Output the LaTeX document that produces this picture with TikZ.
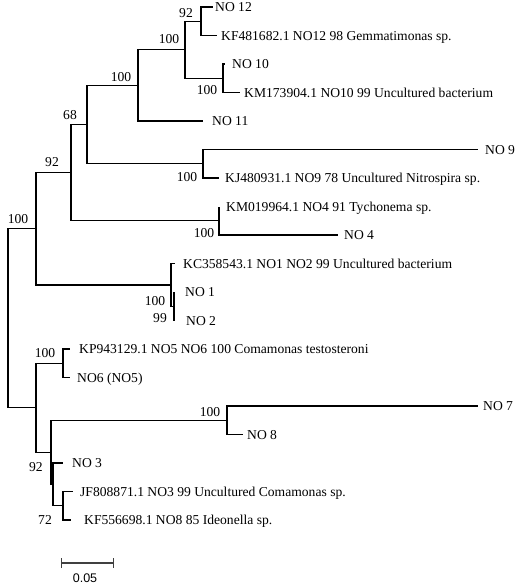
\documentclass[tikz,border=0pt]{standalone}
\usepackage{fontspec}
\setmainfont{Liberation Serif}
\newfontfamily\barfont{Liberation Sans}
\usetikzlibrary{positioning,arrows.meta}

\newcommand{\taxfont}{\fontsize{13.6}{16}\selectfont}

\tikzset{
  branch/.style={line width=1.25pt},
  leaf/.style={inner xsep=0pt, inner ysep=0pt, text height=9pt, text depth=0pt, font=\taxfont},
  boot/.style={inner sep=0pt, text height=9pt, text depth=0pt, font=\taxfont},
}

\begin{document}
\begin{tikzpicture}[x=1pt,y=-1pt]

  \useasboundingbox (0,0) rectangle (520,584);

  \coordinate (root) at (8,318.3);
  \coordinate (n100a) at (36,228.8);
  \coordinate (n92a) at (71,172.7);
  \coordinate (n68) at (87,124.6);
  \coordinate (n100b) at (138,85.4);
  \coordinate (n100c) at (185,49.75);
  \coordinate (n92b) at (201,21.25);
  \coordinate (n100d) at (223,78.25);
  \coordinate (n100e) at (203,163.75);
  \coordinate (n100f) at (219,220.75);
  \coordinate (n100g) at (171,284.9);
  \coordinate (nsub) at (174,306.25);
  \coordinate (nlow) at (36,407.8);
  \coordinate (n100h) at (63,363.25);
  \coordinate (n92c) at (51,452.3);
  \coordinate (nb) at (53,484.4);
  \coordinate (n100i) at (227,420.25);
  \coordinate (n72) at (63,505.75);

  \coordinate (t12) at (213,7);
  \coordinate (tgem) at (217,35.5);
  \coordinate (t10) at (225,64);
  \coordinate (tkm173) at (240,92.5);
  \coordinate (t11) at (203,121);
  \coordinate (t9) at (478,149.5);
  \coordinate (tkj) at (219,178);
  \coordinate (tkm019) at (219,206.5);
  \coordinate (t4) at (338,235);
  \coordinate (tkc) at (175,263.5);
  \coordinate (t1) at (174,292);
  \coordinate (t2) at (174,320.5);
  \coordinate (tkp) at (70,349);
  \coordinate (t6) at (70,377.5);
  \coordinate (t7) at (478,406);
  \coordinate (t8) at (243,434.5);
  \coordinate (t3) at (63,463);
  \coordinate (tjf) at (73,491.5);
  \coordinate (tkf) at (71,520);

  \draw[branch] (root) |- (n100a);
  \draw[branch] (root) |- (nlow);
  \draw[branch] (n100a) |- (n92a);
  \draw[branch] (n100a) |- (n100g);
  \draw[branch] (n92a) |- (n68);
  \draw[branch] (n92a) |- (n100f);
  \draw[branch] (n68) |- (n100b);
  \draw[branch] (n68) |- (n100e);
  \draw[branch] (n100b) |- (n100c);
  \draw[branch] (n100b) |- (t11);
  \draw[branch] (n100c) |- (n92b);
  \draw[branch] (n100c) |- (n100d);
  \draw[branch] (n92b) |- (t12);
  \draw[branch] (n92b) |- (tgem);
  \draw[branch] (n100d) |- (t10);
  \draw[branch] (n100d) |- (tkm173);
  \draw[branch] (n100e) |- (t9);
  \draw[branch] (n100e) |- (tkj);
  \draw[branch] (n100f) |- (tkm019);
  \draw[branch] (n100f) |- (t4);
  \draw[branch] (n100g) |- (tkc);
  \draw[branch] (n100g) |- (nsub);
  \draw[branch] (nsub) |- (t1);
  \draw[branch] (nsub) |- (t2);
  \draw[branch] (nlow) |- (n100h);
  \draw[branch] (nlow) |- (n92c);
  \draw[branch] (n100h) |- (tkp);
  \draw[branch] (n100h) |- (t6);
  \draw[branch] (n92c) |- (n100i);
  \draw[branch] (n92c) |- (nb);
  \draw[branch] (n100i) |- (t7);
  \draw[branch] (n100i) |- (t8);
  \draw[branch] (nb) |- (t3);
  \draw[branch] (nb) |- (n72);
  \draw[branch] (n72) |- (tjf);
  \draw[branch] (n72) |- (tkf);

  \node[leaf, right=2pt of t12] (no12) {NO 12};
  \node[leaf, right=4pt of tgem] (gem) {KF481682.1 NO12 98 Gemmatimonas sp.};
  \node[leaf, right=7pt of t10] (no10) {NO 10};
  \node[leaf, right=4pt of tkm173] (km173) {KM173904.1 NO10 99 Uncultured bacterium};
  \node[leaf, right=9pt of t11] (no11) {NO 11};
  \node[leaf, right=7pt of t9] (no9) {NO 9};
  \node[leaf, right=6pt of tkj] (kj) {KJ480931.1 NO9 78 Uncultured Nitrospira sp.};
  \node[leaf, right=7pt of tkm019] (km019) {KM019964.1 NO4 91 Tychonema sp.};
  \node[leaf, right=6pt of t4] (no4) {NO 4};
  \node[leaf, right=8pt of tkc] (kc) {KC358543.1 NO1 NO2 99 Uncultured bacterium};
  \node[leaf, right=11pt of t1] (no1) {NO 1};
  \node[leaf, right=12pt of t2] (no2) {NO 2};
  \node[leaf, right=9pt of tkp] (kp) {KP943129.1 NO5 NO6 100 Comamonas testosteroni};
  \node[leaf, right=7pt of t6] (no6) {NO6 (NO5)};
  \node[leaf, right=5pt of t7] (no7) {NO 7};
  \node[leaf, right=4pt of t8] (no8) {NO 8};
  \node[leaf, right=9pt of t3] (no3) {NO 3};
  \node[leaf, right=7pt of tjf] (jf) {JF808871.1 NO3 99 Uncultured Comamonas sp.};
  \node[leaf, right=13pt of tkf] (kf) {KF556698.1 NO8 85 Ideonella sp.};

  \node[boot] (b92b) at (186,13) {92};
  \node[boot] (b100c) at (169,39) {100};
  \node[boot] (b100d) at (207,90) {100};
  \node[boot] (b100b) at (121,77) {100};
  \node[boot] (b68) at (70,115) {68};
  \node[boot] (b100e) at (187,177) {100};
  \node[boot] (b92a) at (52,162) {92};
  \node[boot] (b100f) at (204,233) {100};
  \node[boot] (b100a) at (18,219) {100};
  \node[boot] (b100g) at (155,301) {100};
  \node[boot] (b99) at (160,318) {99};
  \node[boot] (b100h) at (45,353) {100};
  \node[boot] (b100i) at (210,412) {100};
  \node[boot] (b92c) at (36,467) {92};
  \node[boot] (b72) at (45,520) {72};

  \coordinate (sb0) at (61,563);
  \coordinate (sb1) at (114,563);
  \draw[line width=1.4pt, darkgray, {Bar[width=10pt]}-{Bar[width=10pt]}] (sb0) -- (sb1);
  \node[boot, font=\barfont\fontsize{12.5}{15}\selectfont] (scale) at (85,578) {0.05};

\end{tikzpicture}
\end{document}
